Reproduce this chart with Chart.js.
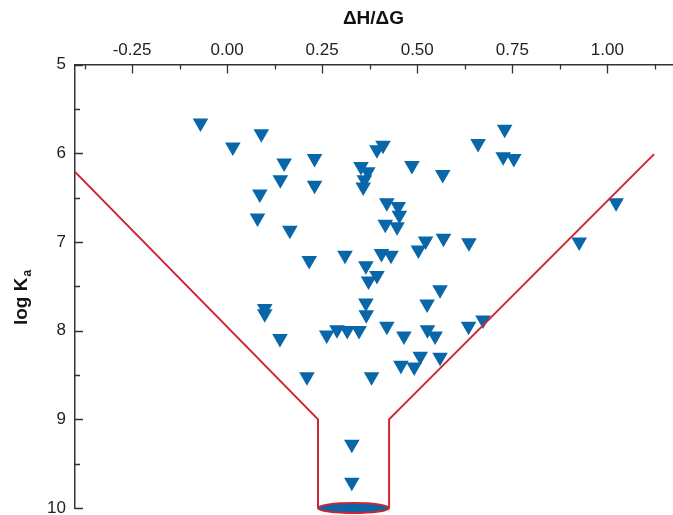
<!DOCTYPE html>
<html>
<head>
  <meta charset="utf-8">
  <title>log Ka vs ΔH/ΔG</title>
  <script src="https://cdn.jsdelivr.net/npm/chart.js"></script>
  <style>
    body {
      margin: 0;
      padding: 0;
      background-color: #fff;
    }
    #wrap {
      width: 673px;
      height: 515px;
    }
  </style>
</head>
<body>
  <div id="wrap"><canvas id="funnelChart" width="673" height="515"></canvas></div>
  <script>
    // one point per complex
    const dhdg = [
      -0.07, 0.09, 0.015, 0.15, 0.23, 0.14, 0.23, 0.086, 0.08, 0.165,
      0.73, 0.66, 0.41, 0.394, 0.726, 0.754, 0.352, 0.37, 0.361, 0.358,
      0.486, 0.567, 0.42, 0.45, 0.453, 0.416, 0.447, 0.522, 0.569, 0.636,
      0.503, 0.406, 0.431, 0.31, 0.216, 0.365, 0.394, 0.372, 0.56, 0.526,
      0.365, 0.366, 0.099, 0.099, 0.139, 0.262, 0.289, 0.316, 0.347, 0.42,
      0.465, 0.527, 0.547, 0.635, 0.673, 0.508, 0.457, 0.492, 0.56, 0.38,
      0.21, 1.023, 0.926, 0.328, 0.328
    ];
    const logKa = [
      5.66, 5.78, 5.93, 6.11, 6.06, 6.30, 6.36, 6.46, 6.73, 6.87,
      5.73, 5.89, 5.91, 5.96, 6.04, 6.06, 6.15, 6.21, 6.30, 6.38,
      6.14, 6.24, 6.56, 6.60, 6.70, 6.80, 6.83, 6.99, 6.96, 7.01,
      7.09, 7.13, 7.15, 7.15, 7.21, 7.27, 7.38, 7.44, 7.54, 7.70,
      7.69, 7.82, 7.75, 7.81, 8.09, 8.05, 7.99, 8.00, 8.00, 7.95,
      8.06, 7.99, 8.06, 7.95, 7.88, 8.29, 8.39, 8.41, 8.30, 8.52,
      8.52, 6.56, 7.00, 9.28, 9.71
    ];

    // funnel outline, null splits the two sides
    const funnelX = [-0.40, 0.239, 0.239, null, 0.426, 0.426, 1.123];
    const funnelY = [6.21, 9.0, 10.0, null, 10.0, 9.0, 6.01];
    // spout at the bottom
    const spoutX = [0.239, 0.426];
    const spoutY = 10;

    const xTicks = [-0.25, 0, 0.25, 0.5, 0.75, 1.0];
    const xMinor = [-0.375, -0.125, 0.125, 0.375, 0.625, 0.875, 1.125];
    const yTicks = [5, 6, 7, 8, 9, 10];
    const yMinor = [5.5, 6.5, 7.5, 8.5, 9.5];

    const xTitle = 'ΔH/ΔG';
    const yTitleMain = 'log K';
    const yTitleSub = 'a';

    const FONT = "'Liberation Sans', Arial, sans-serif";
    const BLUE = '#0866a9';
    const RED = '#cf2434';
    const AXIS = '#333';

    const points = dhdg.map((x, i) => ({ x: x, y: logKa[i] }));
    const funnel = funnelX.map((x, i) => ({ x: x, y: funnelY[i] }));

    const spoutPlugin = {
      id: 'spout',
      afterDatasetsDraw(chart) {
        const { ctx, scales } = chart;
        const x1 = scales.x.getPixelForValue(spoutX[0]);
        const x2 = scales.x.getPixelForValue(spoutX[1]);
        const cy = scales.y.getPixelForValue(spoutY);
        ctx.save();
        ctx.beginPath();
        ctx.ellipse((x1 + x2) / 2, cy, (x2 - x1) / 2, 5, 0, 0, Math.PI * 2);
        ctx.fillStyle = BLUE;
        ctx.fill();
        ctx.lineWidth = 2;
        ctx.strokeStyle = RED;
        ctx.stroke();
        ctx.restore();
      }
    };

    // inward ticks, minor ticks and the y title with subscript
    const axisPlugin = {
      id: 'axisDecor',
      afterDraw(chart) {
        const { ctx, chartArea, scales } = chart;
        ctx.save();
        ctx.strokeStyle = AXIS;
        ctx.lineWidth = 1.3;
        ctx.beginPath();
        xTicks.forEach(v => {
          const px = Math.round(scales.x.getPixelForValue(v)) + 0.5;
          ctx.moveTo(px, chartArea.top);
          ctx.lineTo(px, chartArea.top + 9);
        });
        xMinor.forEach(v => {
          const px = Math.round(scales.x.getPixelForValue(v)) + 0.5;
          ctx.moveTo(px, chartArea.top);
          ctx.lineTo(px, chartArea.top + 5);
        });
        yTicks.forEach(v => {
          const py = Math.round(scales.y.getPixelForValue(v)) + 0.5;
          ctx.moveTo(chartArea.left, py);
          ctx.lineTo(chartArea.left + 8, py);
        });
        yMinor.forEach(v => {
          const py = Math.round(scales.y.getPixelForValue(v)) + 0.5;
          ctx.moveTo(chartArea.left, py);
          ctx.lineTo(chartArea.left + 5, py);
        });
        ctx.stroke();

        ctx.translate(27, 298);
        ctx.rotate(-Math.PI / 2);
        ctx.fillStyle = '#111';
        ctx.textBaseline = 'alphabetic';
        ctx.font = 'bold 19px ' + FONT;
        const w1 = ctx.measureText(yTitleMain).width;
        ctx.font = 'bold 12px ' + FONT;
        const w2 = ctx.measureText(yTitleSub).width;
        const start = -(w1 + w2) / 2;
        ctx.font = 'bold 19px ' + FONT;
        ctx.fillText(yTitleMain, start, 0);
        ctx.font = 'bold 12px ' + FONT;
        ctx.fillText(yTitleSub, start + w1 + 1, 4);
        ctx.restore();
      }
    };

    const ctx = document.getElementById('funnelChart').getContext('2d');
    new Chart(ctx, {
      type: 'scatter',
      data: {
        datasets: [
          {
            label: 'complexes',
            data: points,
            pointStyle: 'triangle',
            rotation: 180,
            pointRadius: 9,
            pointHoverRadius: 9,
            backgroundColor: BLUE,
            borderColor: BLUE,
            borderWidth: 0,
            order: 2
          },
          {
            label: 'funnel',
            data: funnel,
            showLine: true,
            spanGaps: false,
            borderColor: RED,
            borderWidth: 2,
            pointRadius: 0,
            fill: false,
            order: 1
          }
        ]
      },
      options: {
        responsive: false,
        animation: false,
        events: [],
        layout: { autoPadding: false, padding: { top: 0, left: 0, right: 1, bottom: 7 } },
        plugins: {
          legend: { display: false },
          tooltip: { enabled: false }
        },
        scales: {
          x: {
            type: 'linear',
            position: 'top',
            min: -0.40,
            max: 1.17,
            grid: { drawOnChartArea: false, drawTicks: false },
            border: { display: true, color: AXIS, width: 1.5 },
            ticks: {
              padding: 4,
              color: '#222',
              font: { family: FONT, size: 17 },
              callback: v => v.toFixed(2)
            },
            title: {
              display: true,
              text: xTitle,
              color: '#111',
              font: { family: FONT, size: 19, weight: 'bold' },
              padding: { top: 7, bottom: 0 }
            },
            afterBuildTicks: s => { s.ticks = xTicks.map(v => ({ value: v })); },
            afterFit: s => { s.height = 64.5; s.paddingLeft = 0; s.paddingRight = 0; }
          },
          y: {
            type: 'linear',
            reverse: true,
            min: 5,
            max: 10,
            grid: { drawOnChartArea: false, drawTicks: false },
            border: { display: true, color: AXIS, width: 1.5 },
            ticks: {
              padding: 9,
              color: '#222',
              font: { family: FONT, size: 17 }
            },
            afterBuildTicks: s => { s.ticks = yTicks.map(v => ({ value: v })); },
            afterFit: s => { s.width = 75; s.paddingTop = 0; s.paddingBottom = 0; }
          }
        }
      },
      plugins: [spoutPlugin, axisPlugin]
    });
  </script>
</body>
</html>
